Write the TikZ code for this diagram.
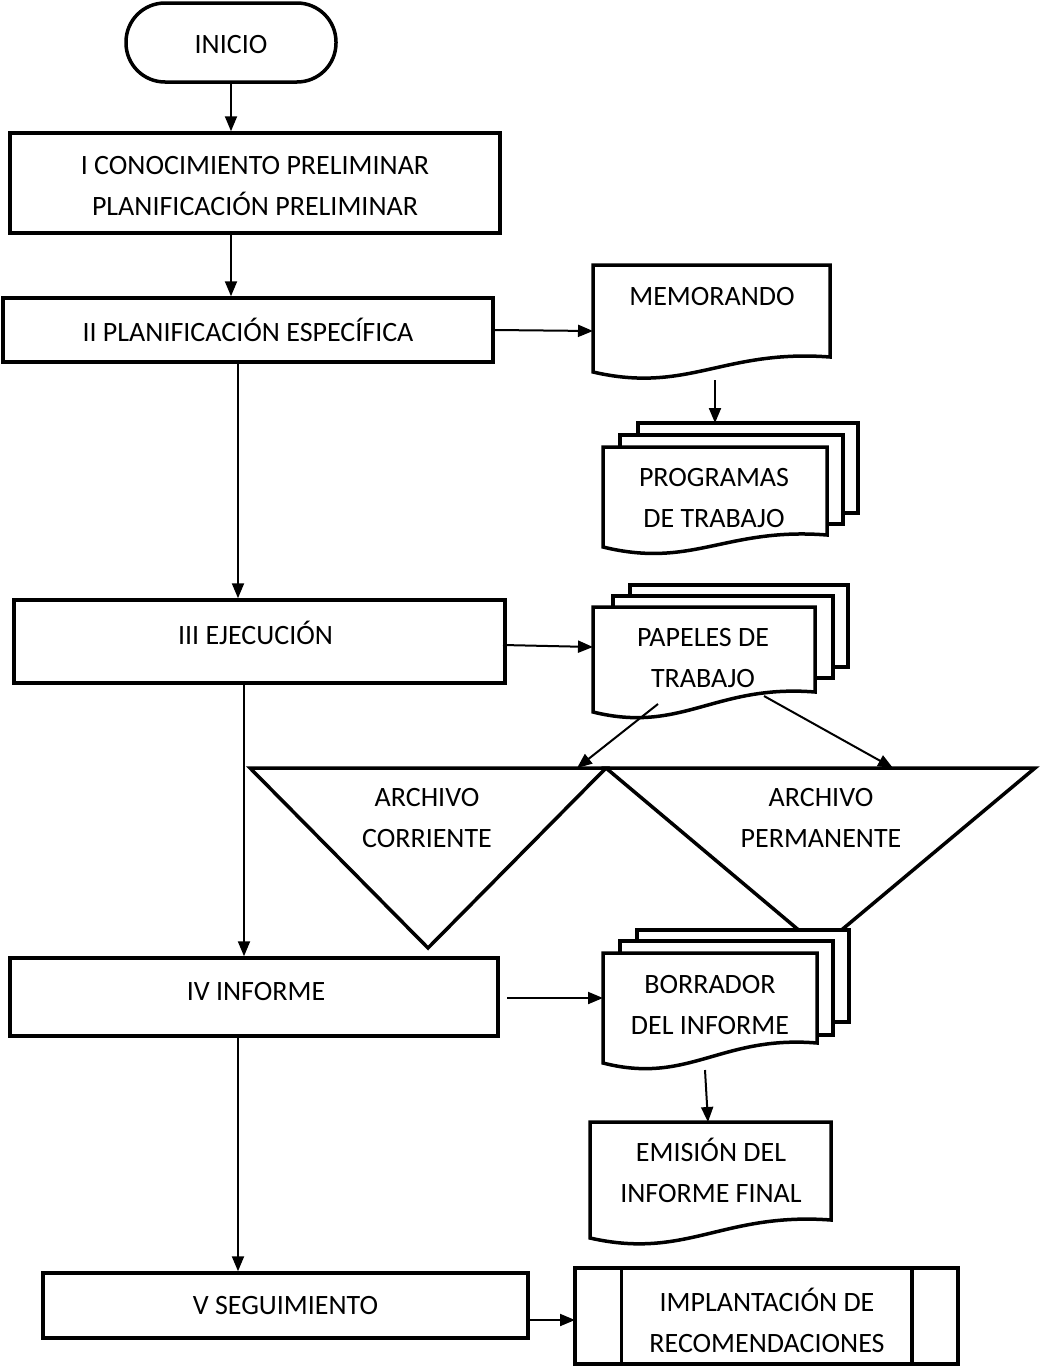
\documentclass[tikz,border=0pt]{standalone}
\usepackage{fontspec}
\setmainfont{Carlito}
\usetikzlibrary{arrows.meta}
\newcommand\fs{\fontsize{28pt}{41pt}\selectfont}
% document shape: x1, ytop, x2, y bottom-left, y bottom-right
\newcommand\docpath[5]{%
  \pgfmathsetmacro\dw{#3-#1}%
  \pgfmathsetmacro\cxa{#3-0.45*\dw}\pgfmathsetmacro\cya{#5-8}%
  \pgfmathsetmacro\cxb{#1+0.4*\dw}\pgfmathsetmacro\cyb{#4+22}%
  \draw[shp] (#1,#2) -- (#3,#2) -- (#3,#5) .. controls (\cxa,\cya) and (\cxb,\cyb) .. (#1,#4) -- cycle;%
}
\begin{document}
\begin{tikzpicture}[x=1pt,y=-1pt,
  box/.style={draw,line width=3.5pt,inner sep=0pt,rectangle},
  shp/.style={draw,line width=3.5pt,fill=white,line join=miter},
  lbl/.style={align=center,font=\fs,inner sep=0pt},
  arr/.style={line width=2pt,-{Triangle[length=15pt,width=12pt]}}]
\useasboundingbox (0,0) rectangle (1039,1368);

% main column
\node[box,rounded corners=39pt,minimum width=210pt,minimum height=79pt,label={[font=\fs,yshift=-2pt]center:INICIO}] (inicio) at (231,42.5) {};
\node[box,minimum width=490pt,minimum height=100pt,label={[lbl,yshift=-3pt]center:I CONOCIMIENTO PRELIMINAR\\PLANIFICACIÓN PRELIMINAR}] (i) at (255,183) {};
\node[box,font=\fs,minimum width=490pt,minimum height=64pt] (ii) at (248,330) {II PLANIFICACIÓN ESPECÍFICA};
\node[box,minimum width=491pt,minimum height=83pt,label={[font=\fs,yshift=8.5pt,xshift=-4pt]center:III EJECUCIÓN}] (iii) at (259.5,641.5) {};
\node[box,minimum width=488pt,minimum height=78pt,label={[font=\fs,yshift=6pt,xshift=2pt]center:IV INFORME}] (iv) at (254,997) {};
\node[box,font=\fs,minimum width=485pt,minimum height=65pt] (v) at (285.5,1305.5) {V SEGUIMIENTO};

% MEMORANDO
\docpath{593}{265}{830}{372}{357}
\node[lbl] (mem) at (712,297) {MEMORANDO};
\coordinate (memW) at (593,331);
\coordinate (memS) at (715,380);

% PROGRAMAS DE TRABAJO
\draw[shp] (638,423) rectangle (858,513);
\draw[shp] (620,435) rectangle (843,524);
\docpath{603}{447}{827}{547}{535}
\node[lbl] (prog) at (714,498) {PROGRAMAS\\DE TRABAJO};
\coordinate (progN) at (715,423);

% PAPELES DE TRABAJO
\draw[shp] (630,585) rectangle (848,667);
\draw[shp] (613,596) rectangle (833,678);
\docpath{593}{607}{815}{712}{692}
\node[lbl] (pap) at (703,658) {PAPELES DE\\TRABAJO};
\coordinate (papW) at (593,647);
\coordinate (papB1) at (658,704);
\coordinate (papB2) at (764,696);

% archive triangles
\draw[shp] (250,768) -- (606,768) -- (428,948) -- cycle;
\draw[shp] (606,768) -- (1035,768) -- (820,948) -- cycle;
\node[lbl] (arcC) at (427,818) {ARCHIVO\\CORRIENTE};
\node[lbl] (arcP) at (821,818) {ARCHIVO\\PERMANENTE};
\coordinate (tlT) at (577,768);
\coordinate (trT) at (893,768);

% BORRADOR DEL INFORME
\draw[shp] (637,930) rectangle (849,1022);
\draw[shp] (620,941) rectangle (833,1035);
\docpath{603}{953}{817}{1063}{1043}
\node[lbl] (bor) at (710,1005) {BORRADOR\\DEL INFORME};
\coordinate (borW) at (603,998);
\coordinate (borS) at (705,1070);

% EMISION DEL INFORME FINAL
\docpath{590}{1122}{831}{1238}{1220}
\node[lbl] (emi) at (711,1170) {EMISIÓN DEL\\INFORME FINAL};
\coordinate (emiN) at (708,1122);

% IMPLANTACION DE RECOMENDACIONES (predefined process)
\node[box,minimum width=383pt,minimum height=96pt] (pp) at (766.5,1316) {};
\draw[line width=3.5pt] ([xshift=48pt]pp.north west) -- ([xshift=48pt]pp.south west);
\draw[line width=3.5pt] ([xshift=-48pt]pp.north east) -- ([xshift=-48pt]pp.south east);
\node[lbl] (ppt) at (767,1320) {IMPLANTACIÓN DE\\RECOMENDACIONES};
\coordinate (ppW) at (575,1320);

% vertical guide coordinates
\coordinate (v1) at (238,0);
\coordinate (v2) at (244,0);
\coordinate (v3) at (238,0);
\coordinate (iiiE) at (503,645);
\coordinate (ivE) at (507,998);

% connectors
\draw[arr] (inicio.south) -- (inicio.south |- i.north);
\draw[arr] (i.south -| inicio.south) -- (ii.north -| inicio.south);
\draw[arr] (ii.east) -- (memW);
\draw[arr] (memS) -- (progN);
\draw[arr] (ii.south -| v1) -- (iii.north -| v1);
\draw[arr] (iiiE) -- (papW);
\draw[arr] (papB1) -- (tlT);
\draw[arr] (papB2) -- (trT);
\draw[arr] (iii.south -| v2) -- (iv.north -| v2);
\draw[arr] (ivE) -- (borW);
\draw[arr] (borS) -- (emiN);
\draw[arr] (iv.south -| v3) -- (v.north -| v3);
\draw[arr] (v.east |- ppW) -- (ppW);
\end{tikzpicture}
\end{document}
